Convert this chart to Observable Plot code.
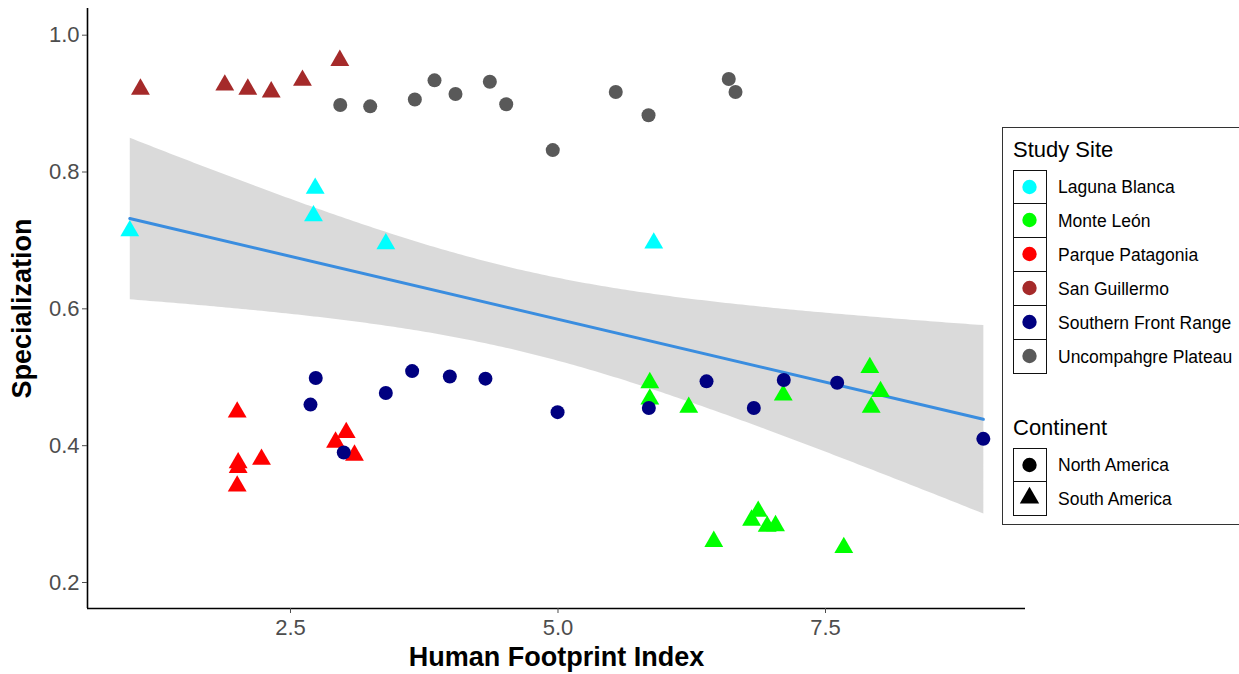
<!DOCTYPE html>
<html>
<head>
<meta charset="utf-8">
<script src="https://cdn.jsdelivr.net/npm/d3@7"></script>
<script src="https://cdn.jsdelivr.net/npm/@observablehq/plot@0.6"></script>
<style>
  html, body { margin: 0; padding: 0; background: #fff; }
  #wrap { position: relative; width: 1239px; height: 674px; overflow: hidden; font-family: "Liberation Sans", Arial, sans-serif; }
  #legend { position: absolute; left: 1002px; top: 127px; width: 280px; height: 398px; border: 1px solid #333; box-sizing: border-box; }
  .ltitle { position: absolute; left: 10px; font-size: 22px; color: #000; line-height: 1; }
  .lkeys { position: absolute; left: 10px; }
  .lrow { position: relative; height: 34px; }
  .lkey { position: absolute; left: 0; top: 0; width: 34px; height: 34px; box-sizing: border-box; border: 1.5px solid #111; }
  .lrow + .lrow .lkey { border-top: none; height: 34px; top: 0; }
  .lkey svg { position: absolute; left: 0; top: 0; }
  .llabel { position: absolute; left: 45px; top: 0; height: 34px; line-height: 34px; font-size: 17.5px; color: #000; white-space: nowrap; }
</style>
</head>
<body>
<div id="wrap"></div>
<script>
// ---- Data ----
const sites = ["Laguna Blanca", "Monte León", "Parque Patagonia", "San Guillermo", "Southern Front Range", "Uncompahgre Plateau"];
const siteColors = ["#00FFFF", "#00FF00", "#FF0000", "#A52A2A", "#000080", "#595959"];
const siteContinent = ["South America", "South America", "South America", "South America", "North America", "North America"];
const continents = ["North America", "South America"];
const continentSymbols = ["circle", "triangle"];
const xTicks = [2.5, 5.0, 7.5];
const yTicks = [0.2, 0.4, 0.6, 0.8, 1.0];

const lagunaBlancaHFI  = [0.998, 2.731, 2.715, 3.391, 5.895];
const lagunaBlancaSpec = [0.714, 0.776, 0.736, 0.695, 0.696];

const monteLeonHFI  = [5.858, 5.858, 6.222, 7.105, 7.914, 8.014, 7.927, 6.871, 6.809, 6.955, 7.033, 6.456, 7.671];
const monteLeonSpec = [0.492, 0.468, 0.456, 0.474, 0.514, 0.479, 0.456, 0.304, 0.291, 0.282, 0.283, 0.260, 0.251];

const parquePatagoniaHFI  = [2.002, 2.011, 2.011, 2.229, 2.002, 3.021, 2.921, 3.098];
const parquePatagoniaSpec = [0.449, 0.375, 0.368, 0.380, 0.341, 0.419, 0.405, 0.386];

const sanGuillermoHFI  = [1.098, 1.886, 2.101, 2.320, 2.612, 2.961];
const sanGuillermoSpec = [0.921, 0.927, 0.921, 0.917, 0.934, 0.963];

const southernFrontRangeHFI  = [2.736, 2.687, 3.391, 3.637, 3.989, 4.322, 2.998, 4.996, 5.849, 6.388, 7.110, 6.830, 7.609, 8.975];
const southernFrontRangeSpec = [0.499, 0.460, 0.477, 0.509, 0.501, 0.498, 0.390, 0.449, 0.455, 0.494, 0.496, 0.455, 0.492, 0.410];

const uncompahgreHFI  = [2.965, 3.245, 3.662, 3.846, 4.042, 4.363, 4.516, 4.951, 5.540, 5.846, 6.596, 6.659];
const uncompahgreSpec = [0.898, 0.896, 0.906, 0.934, 0.914, 0.932, 0.899, 0.832, 0.917, 0.883, 0.936, 0.917];

const seriesHFI  = [lagunaBlancaHFI, monteLeonHFI, parquePatagoniaHFI, sanGuillermoHFI, southernFrontRangeHFI, uncompahgreHFI];
const seriesSpec = [lagunaBlancaSpec, monteLeonSpec, parquePatagoniaSpec, sanGuillermoSpec, southernFrontRangeSpec, uncompahgreSpec];

const rows = [];
sites.forEach((s, i) => {
  seriesHFI[i].forEach((h, j) => rows.push({site: s, continent: siteContinent[i], hfi: h, spec: seriesSpec[i][j]}));
});

const xDomain = [0.603, 9.369];
const yDomain = [0.162, 1.039];
const FONT = '"Liberation Sans", Arial, sans-serif';

const chart = Plot.plot({
  width: 1239,
  height: 674,
  marginLeft: 87,
  marginRight: 214,
  marginTop: 8,
  marginBottom: 66,
  style: {fontFamily: FONT, background: "transparent", overflow: "visible"},
  x: {domain: xDomain},
  y: {domain: yDomain},
  color: {domain: sites, range: siteColors},
  symbol: {domain: continents, range: continentSymbols},
  marks: [
    Plot.linearRegressionY(rows, {x: "hfi", y: "spec", stroke: "#3a8ddf", strokeWidth: 3, fill: "#999999", fillOpacity: 0.36, ci: 0.95}),
    Plot.dot(rows, {x: "hfi", y: "spec", fill: "site", symbol: "continent", r: 7, stroke: "none"}),
    Plot.ruleX([xDomain[0]], {stroke: "#000", strokeWidth: 1.6}),
    Plot.ruleY([yDomain[0]], {stroke: "#000", strokeWidth: 1.6}),
    Plot.axisX(xTicks, {tickSize: 5, tickPadding: 6, fontSize: 22, color: "#4d4d4d", tickFormat: d => d.toFixed(1), label: null}),
    Plot.axisY(yTicks, {tickSize: 5, tickPadding: 3, fontSize: 22, color: "#4d4d4d", tickFormat: d => d.toFixed(1), label: null}),
    Plot.text(["Human Footprint Index"], {text: d => d, frameAnchor: "bottom", textAnchor: "middle", dy: 49, lineAnchor: "middle", fontSize: 27, fontWeight: "bold", fill: "#000"}),
    Plot.text(["Specialization"], {text: d => d, frameAnchor: "left", textAnchor: "middle", dx: -65, rotate: -90, lineAnchor: "middle", fontSize: 27, fontWeight: "bold", fill: "#000"})
  ]
});

const wrap = document.getElementById("wrap");
wrap.appendChild(chart);

// ---- Legend (HTML) ----
function keySvg(shape, color) {
  const ns = "http://www.w3.org/2000/svg";
  const svg = document.createElementNS(ns, "svg");
  svg.setAttribute("width", 32);
  svg.setAttribute("height", 32);
  const p = document.createElementNS(ns, "path");
  p.setAttribute("d", d3.symbol(shape === "triangle" ? d3.symbolTriangle : d3.symbolCircle, Math.PI * 7.2 * 7.2)());
  p.setAttribute("transform", "translate(15.5,16)");
  p.setAttribute("fill", color);
  svg.appendChild(p);
  return svg;
}
function addGroup(parent, title, titleTop, keysTop, labels, shapes, colors) {
  const t = document.createElement("div");
  t.className = "ltitle";
  t.style.top = titleTop + "px";
  t.textContent = title;
  parent.appendChild(t);
  const keys = document.createElement("div");
  keys.className = "lkeys";
  keys.style.top = keysTop + "px";
  labels.forEach((lab, i) => {
    const row = document.createElement("div");
    row.className = "lrow";
    const k = document.createElement("div");
    k.className = "lkey";
    k.appendChild(keySvg(shapes[i], colors[i]));
    const l = document.createElement("div");
    l.className = "llabel";
    l.textContent = lab;
    row.appendChild(k);
    row.appendChild(l);
    keys.appendChild(row);
  });
  parent.appendChild(keys);
}
const legend = document.createElement("div");
legend.id = "legend";
addGroup(legend, "Study Site", 11, 42, sites, sites.map(() => "circle"), siteColors);
addGroup(legend, "Continent", 289, 320, continents, continentSymbols, continents.map(() => "#000"));
wrap.appendChild(legend);
</script>
</body>
</html>
